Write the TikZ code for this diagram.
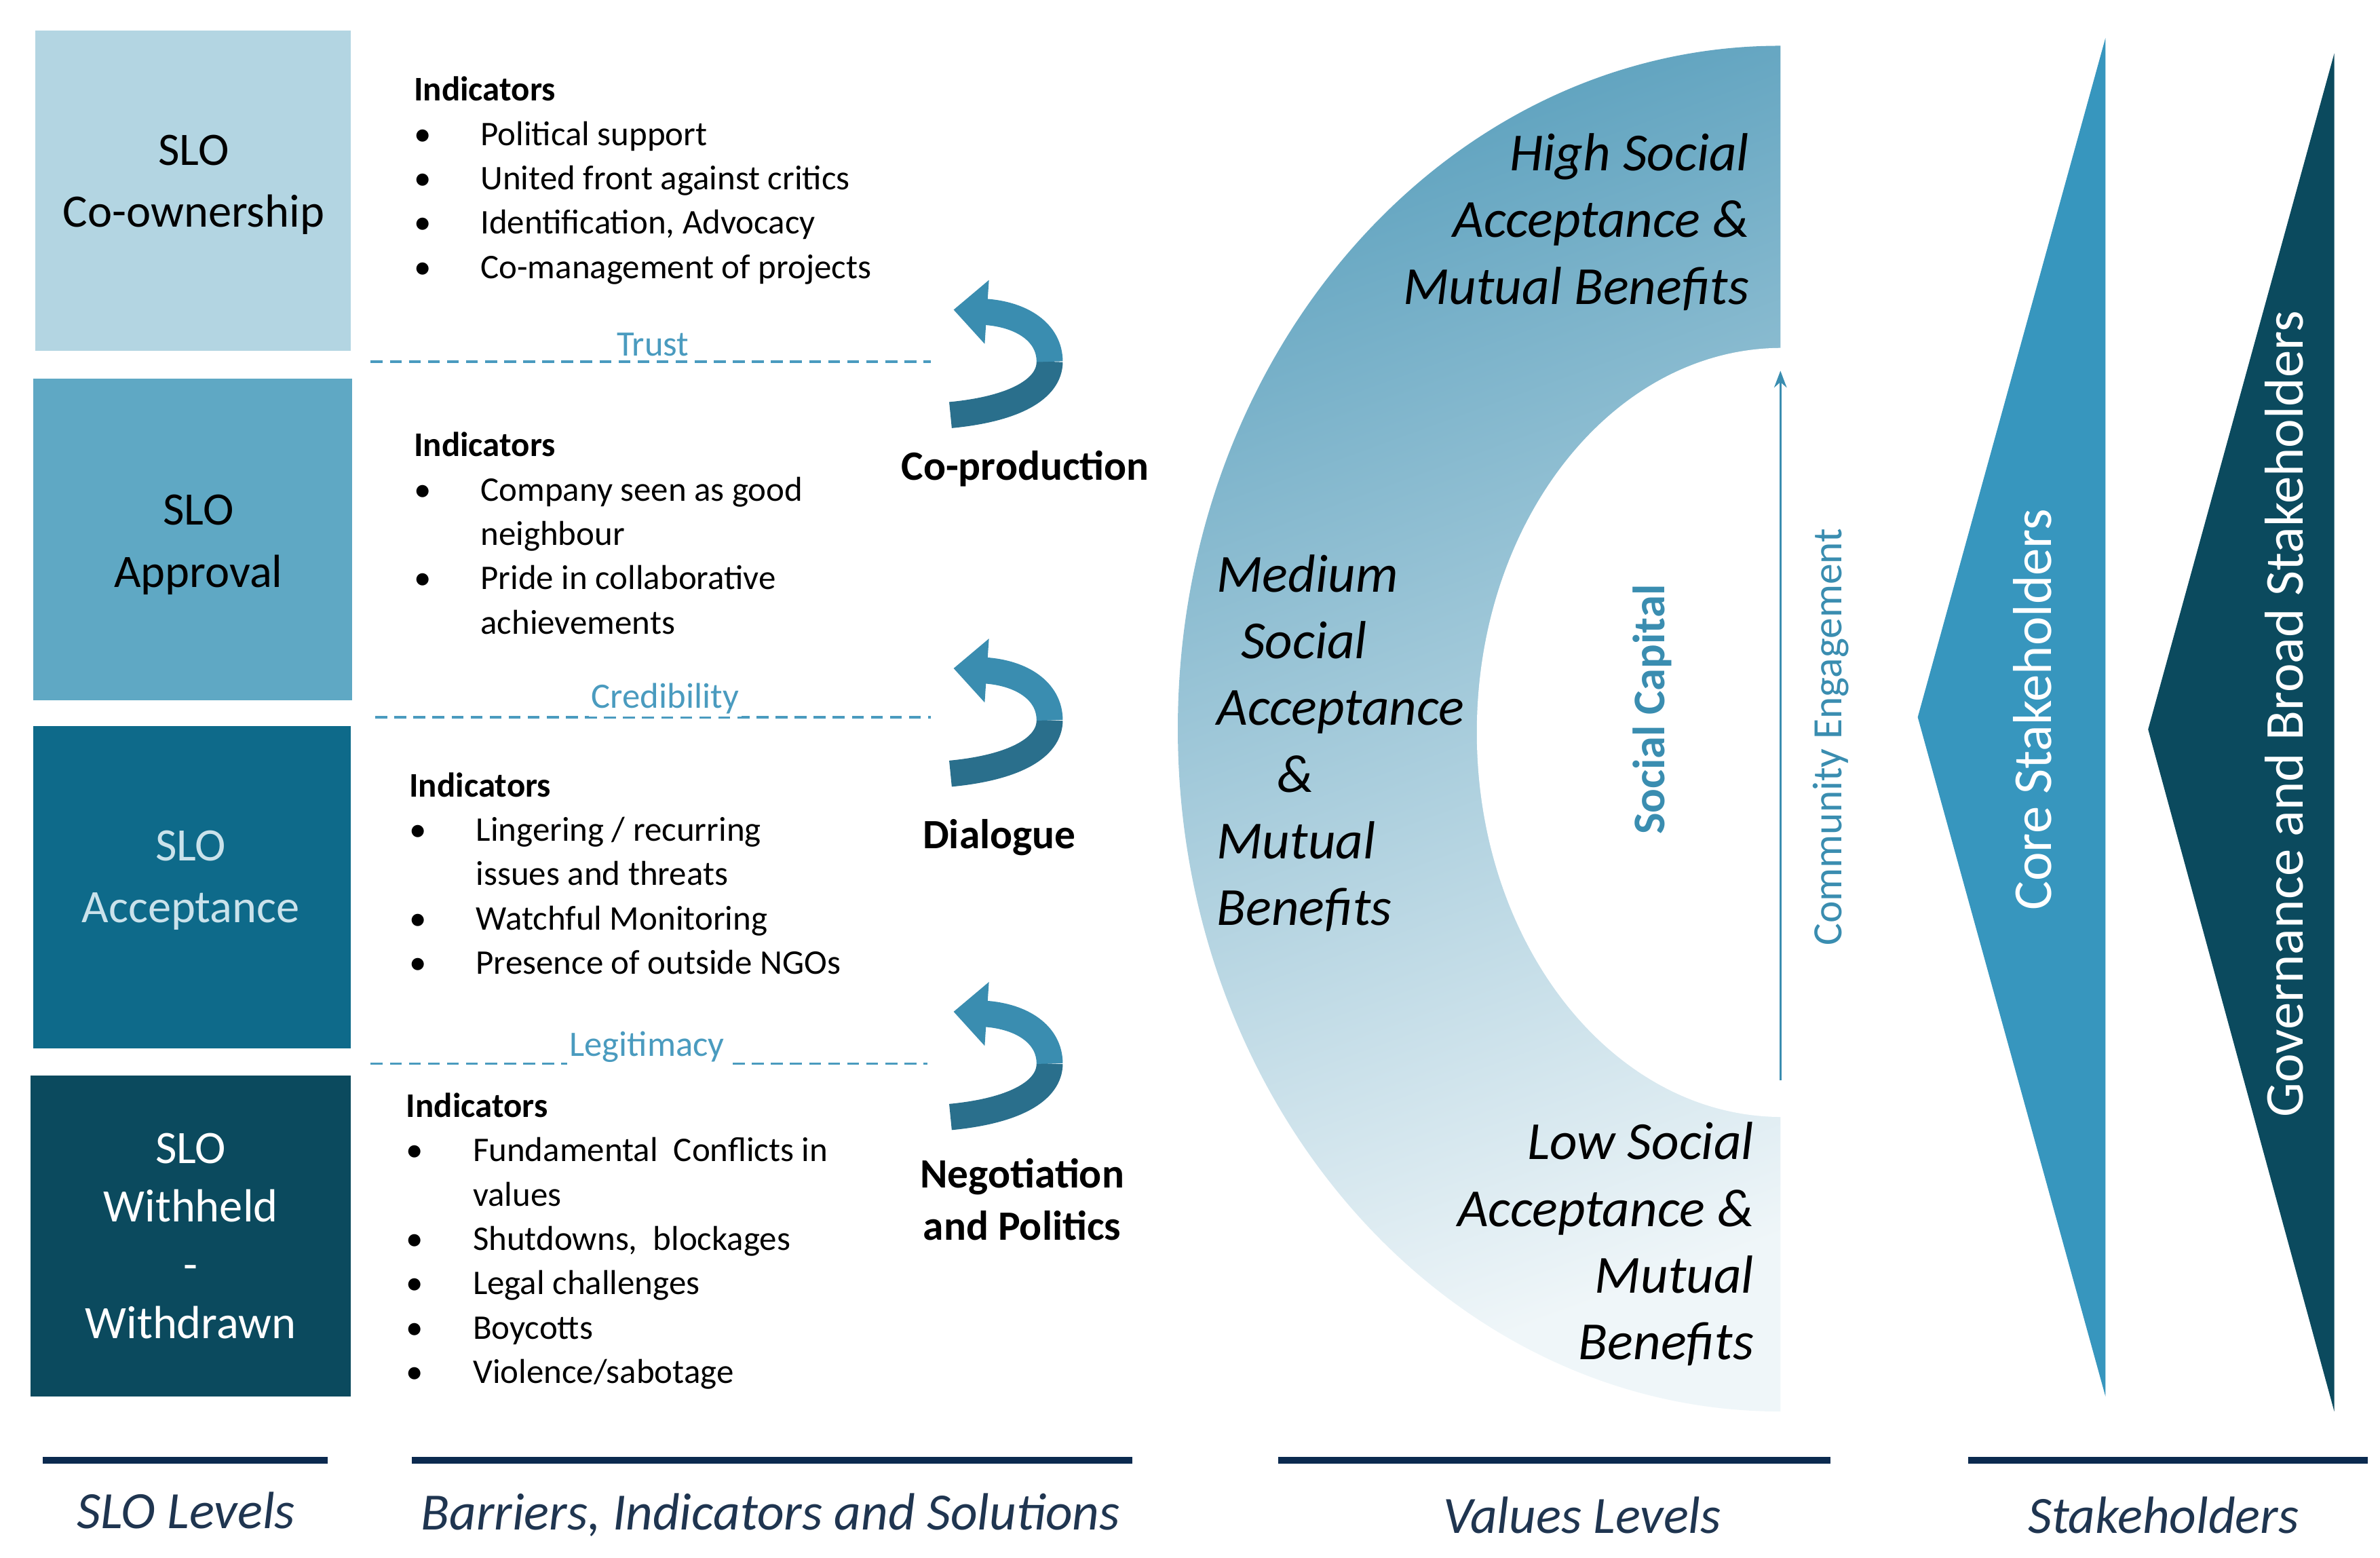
\documentclass[tikz,border=0pt]{standalone}
\usepackage{fontspec}
\setmainfont{Carlito}
\usetikzlibrary{arrows.meta}
\definecolor{b1}{HTML}{B3D5E2}
\definecolor{b2}{HTML}{5FA8C4}
\definecolor{b3}{HTML}{0E6A8A}
\definecolor{b4}{HTML}{0B4A5E}
\definecolor{dl}{HTML}{4A9BBF}
\definecolor{ar}{HTML}{3A8DB0}
\definecolor{ard}{HTML}{2A6F8C}
\definecolor{tri}{HTML}{3796BE}
\definecolor{nav}{HTML}{0B2A4F}
\definecolor{lab}{HTML}{1F3550}
\newcommand{\bu}{\makebox[28pt][l]{•}}
\newcommand{\nb}{\makebox[28pt][l]{}}
\begin{document}
\begin{tikzpicture}[x=0.0225cm,y=-0.0225cm,
 ttl/.style={font=\fontsize{19.5}{24}\selectfont,align=center},
 ind/.style={font=\fontsize{14.5}{18.6}\selectfont,align=left,anchor=north west,inner sep=0},
 mydash/.style={dl,line width=1pt,dash pattern=on 5pt off 3pt},
 dlab/.style={dl,font=\fontsize{15}{17}\selectfont,inner sep=1pt},
 sol/.style={font=\bfseries\fontsize{17.5}{22}\selectfont,align=center},
 big/.style={font=\itshape\fontsize{22.5}{28}\selectfont},
 bot/.style={lab,font=\itshape\fontsize{22}{26}\selectfont},
 bl/.style={nav,line width=2.6pt},
 carr/.style={line width=11pt,ar,-{Triangle[length=14pt,width=26pt]}}]
\useasboundingbox (0,0) rectangle (1560,1021);
% boxes
\fill[b1] (23,20) rectangle (230,230);
\fill[b2] (22,248) rectangle (231,459);
\fill[b3] (22,476) rectangle (230,687);
\fill[b4] (20,705) rectangle (230,915);
\node[ttl] (t1) at (127,121) {SLO\\[2pt]Co-ownership};
\node[ttl] (t2) at (130,357) {SLO\\[2pt]Approval};
\node[ttl,text=b1!70!white] (t3) at (125,577) {SLO\\[2pt]Acceptance};
\node[ttl,text=white,font=\fontsize{19.5}{24.5}\selectfont] (t4) at (125,810) {SLO\\Withheld\\-\\Withdrawn};
% indicators
\node[ind] (i1) at (271,50) {\textbf{Indicators}\\
\bu Political support\\
\bu United front against critics\\
\bu Identification, Advocacy\\
\bu Co-management of projects};
\node[ind] (i2) at (271,283) {\textbf{Indicators}\\
\bu Company seen as good\\
\nb neighbour\\
\bu Pride in collaborative\\
\nb achievements};
\node[ind] (i3) at (268,506) {\textbf{Indicators}\\
\bu Lingering / recurring\\
\nb issues and threats\\
\bu Watchful Monitoring\\
\bu Presence of outside NGOs};
\node[ind] (i4) at (266,716) {\textbf{Indicators}\\
\bu Fundamental\ \ Conflicts in\\
\nb values\\
\bu Shutdowns,\ \ blockages\\
\bu Legal challenges\\
\bu Boycotts\\
\bu Violence/sabotage};
% dashed lines
\coordinate (d1a) at (243,237); \coordinate (d1b) at (610,237);
\coordinate (d2a) at (246,470); \coordinate (d2b) at (610,470);
\coordinate (d3a) at (243,697); \coordinate (d3b) at (608,697);
\draw[mydash] (d1a) -- (d1b); \node[dlab,fill=white] (l1) at (428,226) {Trust};
\draw[mydash] (d2a) -- (d2b); \node[dlab,fill=white] (l2) at (436,458) {Credibility};
\draw[mydash] (d3a) -- (d3b); \node[dlab,fill=white] (l3) at (424,686) {Legitimacy};
% curved arrows
\foreach \y/\n in {0/a1,235/a2,460/a3}{
 \coordinate (\n s) at (623,{272+\y});
 \coordinate (\n e) at (625,{203+\y});
 \draw[line width=11pt,ard] (\n s) .. controls (665,{268+\y}) and (688,{255+\y}) .. (688,{237+\y});
 \draw[carr] (688,{237+\y}) .. controls (688,{218+\y}) and (670,{206+\y}) .. (\n e);
}
\node[sol] (s1) at (672,307) {Co-production};
\node[sol] (s2) at (655,549) {Dialogue};
\node[sol] (s3) at (670,786) {Negotiation\\and Politics};
% half ring
\shade[top color=ar!80,bottom color=ar!8,shading angle=20] (1167,30) arc[start angle=270,end angle=90,x radius=395,y radius=447.5] -- cycle;
\fill[white] (1168,228) arc[start angle=270,end angle=90,x radius=200,y radius=252] -- cycle;
\node[big,align=right,anchor=north east] (h1) at (1152,82) {High Social\\Acceptance \&\\Mutual Benefits};
\node[big,align=left,anchor=north west,font=\itshape\fontsize{22.5}{28}\selectfont] (h2) at (792,358) {Medium\\\ \ Social\\Acceptance\\\ \ \ \ \ \&\\Mutual\\Benefits};
\node[big,align=right,anchor=north east] (h3) at (1155,730) {Low Social\\Acceptance \&\\Mutual\\Benefits};
\node[rotate=90,text=ar,font=\bfseries\fontsize{19}{22}\selectfont] (sc) at (1083,465) {Social Capital};
\coordinate (ce1) at (1167,708); \coordinate (ce2) at (1167,243);
\draw[ar,line width=1pt,-{Stealth[length=7pt]}] (ce1) -- (ce2);
\node[rotate=90,text=ar,font=\fontsize{17.5}{20}\selectfont] (ce) at (1200,483) {Community Engagement};
% triangles
\fill[tri] (1380,25) -- (1380,915) -- (1257,470) -- cycle;
\node[rotate=90,text=white,font=\fontsize{23}{27}\selectfont] (cs) at (1332,465) {Core Stakeholders};
\fill[b4] (1530,35) -- (1530,925) -- (1408,478) -- cycle;
\node[rotate=90,text=white,font=\fontsize{23}{27}\selectfont] (gs) at (1497,468) {Governance and Broad Stakeholders};
% bottom
\draw[bl] (28,957) -- (215,957);
\draw[bl] (270,957) -- (742,957);
\draw[bl] (838,957) -- (1200,957);
\draw[bl] (1290,957) -- (1552,957);
\node[bot] (f1) at (122,990) {SLO Levels};
\node[bot] (f2) at (505,993) {Barriers, Indicators and Solutions};
\node[bot] (f3) at (1037,993) {Values Levels};
\node[bot] (f4) at (1418,993) {Stakeholders};
\end{tikzpicture}
\end{document}
